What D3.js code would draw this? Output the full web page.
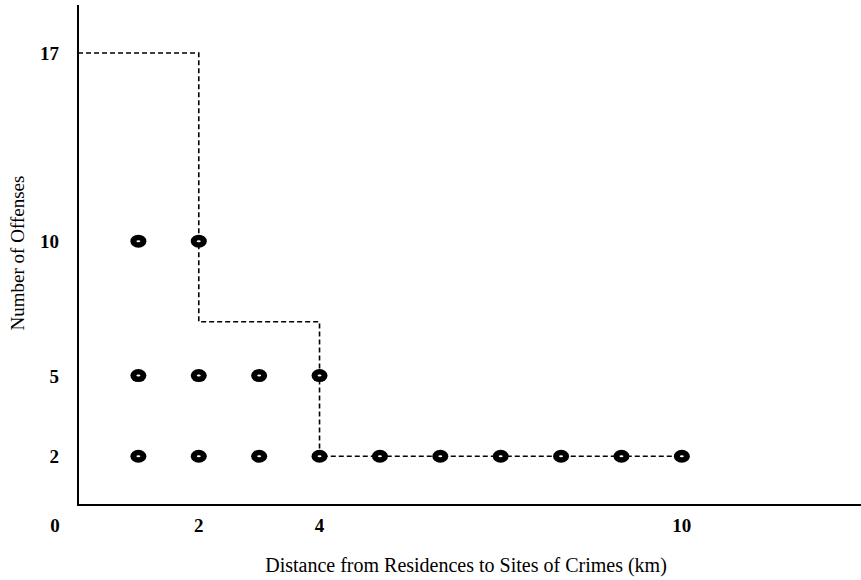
<!DOCTYPE html>
<html><head><meta charset="utf-8">
<script src="https://cdn.jsdelivr.net/npm/d3@7"></script>
<style>body{margin:0;background:#fff}svg{display:block}text{font-family:"Liberation Serif","Times New Roman",serif;fill:#000}</style>
</head><body><svg id="c" width="861" height="580"></svg>
<script>
// Data
const pointsX = [1, 2, 1, 2, 3, 4, 1, 2, 3, 4, 5, 6, 7, 8, 9, 10];
const pointsY = [10, 10, 5, 5, 5, 5, 2, 2, 2, 2, 2, 2, 2, 2, 2, 2];
const stepX = [0, 2, 4, 10];
const stepY = [17, 7, 2, 2];
const xTickLabels = [2, 4, 10];
const yTickLabels = [2, 5, 10, 17];
const originLabel = "0";
const xTitle = "Distance from Residences to Sites of Crimes (km)";
const yTitle = "Number of Offenses";

const svg = d3.select("#c");
const x = d3.scaleLinear().domain([0, 13]).range([78, 863]);
const y = d3.scaleLinear().domain([0, 17]).range([510, 53]);
const axisY = 505;

// axes lines
svg.append("line").attr("x1", x(0)).attr("x2", x(0)).attr("y1", 5).attr("y2", axisY)
  .attr("stroke", "#000").attr("stroke-width", 2);
svg.append("line").attr("x1", x(0) - 1).attr("x2", 861).attr("y1", axisY).attr("y2", axisY)
  .attr("stroke", "#000").attr("stroke-width", 2);

// step line
const path = [];
for (let i = 0; i < stepX.length - 1; i++) {
  path.push([stepX[i], stepY[i]]);
  path.push([stepX[i + 1], stepY[i]]);
}
path.push([stepX[stepX.length - 1], stepY[stepY.length - 1]]);
svg.append("path")
  .attr("d", d3.line().x(d => x(d[0])).y(d => y(d[1]))(path))
  .attr("fill", "none").attr("stroke", "#000").attr("stroke-width", 1.6)
  .attr("stroke-dasharray", "5,3");

// points
const pts = pointsX.map((v, i) => ({ x: v, y: pointsY[i] }));
const g = svg.append("g").selectAll("g").data(pts).join("g")
  .attr("transform", d => `translate(${x(d.x)},${y(d.y)})`);
g.append("ellipse").attr("rx", 8).attr("ry", 6.5).attr("fill", "#000");
g.append("ellipse").attr("rx", 2).attr("ry", 1).attr("fill", "#fff");

// tick labels
svg.append("g").selectAll("text").data(xTickLabels).join("text")
  .attr("x", d => x(d)).attr("y", 532).attr("text-anchor", "middle")
  .attr("font-size", 19).attr("font-weight", "bold").text(d => d);
svg.append("text").attr("x", 55).attr("y", 532).attr("text-anchor", "middle")
  .attr("font-size", 19).attr("font-weight", "bold").text(originLabel);
svg.append("g").selectAll("text").data(yTickLabels).join("text")
  .attr("x", 59).attr("y", d => y(d)).attr("dy", "0.38em").attr("text-anchor", "end")
  .attr("font-size", 19).attr("font-weight", "bold").text(d => d);

// titles
svg.append("text").attr("x", 466).attr("y", 572).attr("text-anchor", "middle")
  .attr("font-size", 20).text(xTitle);
svg.append("text").attr("transform", "translate(24,253) rotate(-90)")
  .attr("text-anchor", "middle").attr("font-size", 19).text(yTitle);
</script></body></html>
